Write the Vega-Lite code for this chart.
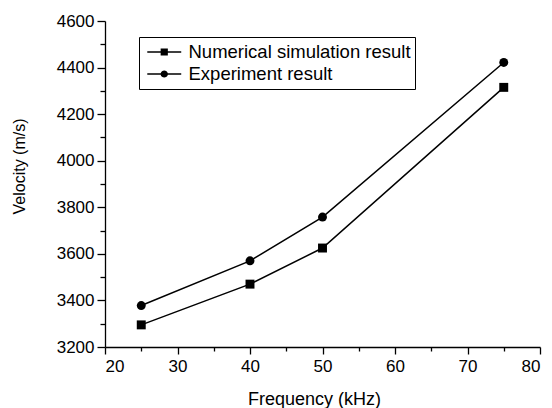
{
  "$schema": "https://vega.github.io/schema/vega-lite/v6.json",
  "width": 435,
  "height": 326,
  "autosize": {"type": "none"},
  "padding": {"left": 105, "top": 21, "right": 12, "bottom": 61},
  "background": "white",
  "config": {
    "view": {"stroke": null},
    "font": "Liberation Sans",
    "axis": {
      "grid": false,
      "domainColor": "black",
      "domainWidth": 1.3,
      "tickColor": "black",
      "tickWidth": 1.3,
      "labelColor": "black",
      "labelFont": "Liberation Sans",
      "labelFontSize": 17,
      "titleFont": "Liberation Sans",
      "titleFontWeight": "normal",
      "titleColor": "black"
    }
  },
  "data": {
    "values": [
      {"freq": 25, "velocity": 3295, "series": "Numerical simulation result"},
      {"freq": 40, "velocity": 3470, "series": "Numerical simulation result"},
      {"freq": 50, "velocity": 3625, "series": "Numerical simulation result"},
      {"freq": 75, "velocity": 4315, "series": "Numerical simulation result"},
      {"freq": 25, "velocity": 3378, "series": "Experiment result"},
      {"freq": 40, "velocity": 3570, "series": "Experiment result"},
      {"freq": 50, "velocity": 3758, "series": "Experiment result"},
      {"freq": 75, "velocity": 4422, "series": "Experiment result"}
    ]
  },
  "encoding": {
    "x": {
      "field": "freq",
      "type": "quantitative",
      "scale": {"domain": [20, 80], "nice": false, "zero": false},
      "axis": {
        "title": "Frequency (kHz)",
        "values": [20, 25, 30, 35, 40, 45, 50, 55, 60, 65, 70, 75, 80],
        "labelExpr": "datum.value % 10 === 0 ? datum.label : ''",
        "tickSize": {"condition": {"test": "datum.value % 10 === 0", "value": 7}, "value": 4},
        "labelPadding": 4,
        "titleFontSize": 18,
        "titleBaseline": "alphabetic",
        "titleX": 209,
        "titleY": 57,
        "format": "d"
      }
    },
    "y": {
      "field": "velocity",
      "type": "quantitative",
      "scale": {"domain": [3200, 4600], "nice": false, "zero": false},
      "axis": {
        "title": "Velocity (m/s)",
        "values": [3200, 3300, 3400, 3500, 3600, 3700, 3800, 3900, 4000, 4100, 4200, 4300, 4400, 4500, 4600],
        "labelExpr": "datum.value % 200 === 0 ? datum.label : ''",
        "tickSize": {"condition": {"test": "datum.value % 200 === 0", "value": 8}, "value": 5},
        "labelPadding": 3,
        "titleFontSize": 16,
        "titleBaseline": "alphabetic",
        "titleAngle": -90,
        "titleAlign": "center",
        "titleX": -81,
        "titleY": 145,
        "format": "d"
      }
    }
  },
  "layer": [
    {
      "mark": {"type": "line", "color": "black", "strokeWidth": 1.5},
      "encoding": {"detail": {"field": "series"}}
    },
    {
      "mark": {"type": "point", "filled": true, "color": "black", "opacity": 1, "size": 80},
      "encoding": {
        "shape": {
          "field": "series",
          "scale": {"domain": ["Numerical simulation result", "Experiment result"], "range": ["square", "circle"]},
          "legend": null
        }
      }
    },
    {
      "mark": {"type": "point", "filled": true, "color": "black", "opacity": 0},
      "encoding": {
        "shape": {
          "field": "series",
          "title": null,
          "scale": {
            "domain": ["Numerical simulation result", "Experiment result"],
            "range": [
              "M-2.83,-0.11H-0.6V-0.6H0.6V-0.11H2.83V0.11H0.6V0.6H-0.6V0.11H-2.83Z",
              "M-2.83,-0.11H-0.6A0.62,0.62,0,0,1,0.6,-0.11H2.83V0.11H0.6A0.62,0.62,0,0,1,-0.6,0.11H-2.83Z"
            ]
          },
          "legend": {
            "orient": "none",
            "legendX": 34,
            "legendY": 16,
            "strokeColor": "black",
            "padding": 4,
            "rowPadding": 0,
            "clipHeight": 22,
            "symbolSize": 144,
            "symbolOffset": 12,
            "labelOffset": 15,
            "symbolOpacity": 1,
            "symbolFillColor": "black",
            "symbolStrokeColor": "black",
            "symbolStrokeWidth": 0,
            "labelFont": "Liberation Sans",
            "labelFontSize": 18.5,
            "labelColor": "black",
            "labelLimit": 400,
            "encode": {
              "symbols": {
                "update": {
                  "fill": {"value": "black"},
                  "opacity": {"value": 1}
                }
              }
            }
          }
        }
      }
    }
  ],
  "resolve": {"scale": {"shape": "independent"}}
}
